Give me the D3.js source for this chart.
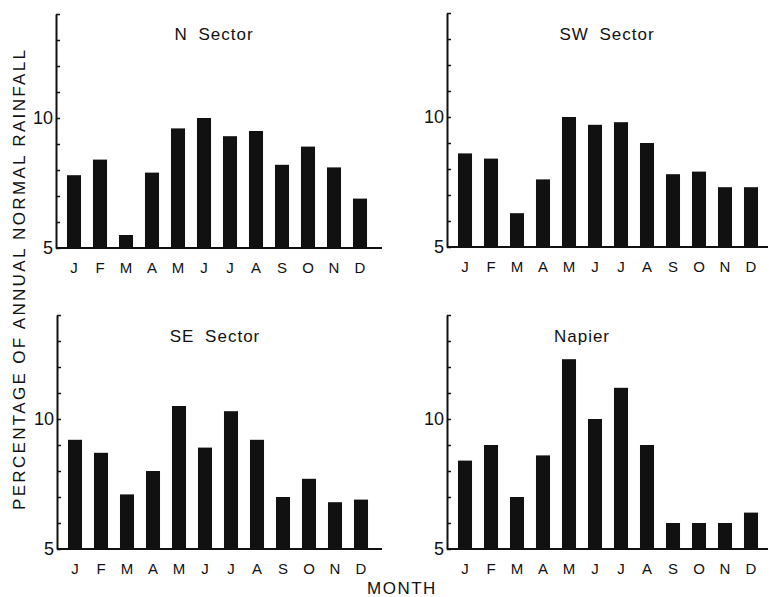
<!DOCTYPE html>
<html>
<head>
<meta charset="utf-8">
<script src="https://cdn.jsdelivr.net/npm/d3@7"></script>
<style>
  body { margin: 0; background: #fff; }
  svg text { font-family: "Liberation Sans", Arial, sans-serif; fill: #111; }
</style>
</head>
<body>
<div id="chart"></div>
<script>
const months = ["J", "F", "M", "A", "M", "J", "J", "A", "S", "O", "N", "D"];
const nSector = [7.8, 8.4, 5.5, 7.9, 9.6, 10.0, 9.3, 9.5, 8.2, 8.9, 8.1, 6.9];
const swSector = [8.6, 8.4, 6.3, 7.6, 10.0, 9.7, 9.8, 9.0, 7.8, 7.9, 7.3, 7.3];
const seSector = [9.2, 8.7, 7.1, 8.0, 10.5, 8.9, 10.3, 9.2, 7.0, 7.7, 6.8, 6.9];
const napier = [8.4, 9.0, 7.0, 8.6, 12.3, 10.0, 11.2, 9.0, 6.0, 6.0, 6.0, 6.4];
const yTicks = [5, 6, 7, 8, 9, 10, 11, 12, 13, 14];
const yLabels = [5, 10];

const W = 769, H = 597;

// layout of the four panels
const panels = [
  { title: "N Sector", values: nSector, ax: 56, base: 248, right: 382, tx: 214, ty: 40 },
  { title: "SW Sector", values: swSector, ax: 447, base: 247, right: 768, tx: 607, ty: 40 },
  { title: "SE Sector", values: seSector, ax: 57, base: 549, right: 382, tx: 215, ty: 342 },
  { title: "Napier", values: napier, ax: 447, base: 549, right: 768, tx: 582, ty: 342 }
];

const svg = d3.select("#chart").append("svg")
  .attr("width", W)
  .attr("height", H);

panels.forEach(p => {
  const g = svg.append("g");

  const x = d3.scaleBand()
    .domain(d3.range(12))
    .range([p.ax + 5, p.ax + 317])
    .paddingInner(0.46)
    .paddingOuter(0.23);

  const y = d3.scaleLinear()
    .domain([5, 14])
    .range([p.base, p.base - 234]);

  g.selectAll("rect")
    .data(p.values)
    .enter().append("rect")
    .attr("x", (d, i) => x(i))
    .attr("width", x.bandwidth())
    .attr("y", d => y(d))
    .attr("height", d => y(5) - y(d))
    .attr("fill", "#111");

  // baseline
  g.append("line")
    .attr("x1", p.ax).attr("x2", p.right)
    .attr("y1", y(5)).attr("y2", y(5))
    .attr("stroke", "#111")
    .attr("stroke-width", 2);

  // y axis with inward ticks
  const axis = g.append("g")
    .attr("transform", `translate(${p.ax},0)`)
    .call(d3.axisRight(y).tickValues(yTicks).tickSize(4).tickSizeOuter(0).tickFormat(""));
  axis.select(".domain").attr("stroke", "#111").attr("stroke-width", 2);
  axis.selectAll(".tick line").attr("stroke", "#111").attr("stroke-width", 1.5);

  const labels = g.append("g")
    .attr("transform", `translate(${p.ax - 3},0)`)
    .call(d3.axisLeft(y).tickValues(yLabels).tickSize(0).tickFormat(d3.format("d")));
  labels.select(".domain").remove();
  labels.selectAll(".tick text")
    .attr("x", 0)
    .style("font-size", "18px")
    .style("font-family", "Liberation Sans, Arial, sans-serif")
    .attr("fill", "#111");

  // month labels
  g.selectAll(".month")
    .data(months)
    .enter().append("text")
    .attr("class", "month")
    .attr("x", (d, i) => x(i) + x.bandwidth() / 2)
    .attr("y", y(5) + 25)
    .attr("text-anchor", "middle")
    .style("font-size", "15px")
    .text(d => d);

  g.append("text")
    .attr("x", p.tx)
    .attr("y", p.ty)
    .attr("text-anchor", "middle")
    .style("font-size", "17px")
    .style("letter-spacing", "1px")
    .style("word-spacing", "5px")
    .text(p.title);
});

svg.append("text")
  .attr("transform", "translate(25,280) rotate(-90)")
  .attr("text-anchor", "middle")
  .style("font-size", "17px")
  .attr("textLength", 460)
  .attr("lengthAdjust", "spacing")
  .text("PERCENTAGE OF ANNUAL NORMAL RAINFALL");

svg.append("text")
  .attr("x", 402)
  .attr("y", 594)
  .attr("text-anchor", "middle")
  .style("font-size", "17px")
  .style("letter-spacing", "1.5px")
  .text("MONTH");
</script>
</body>
</html>
